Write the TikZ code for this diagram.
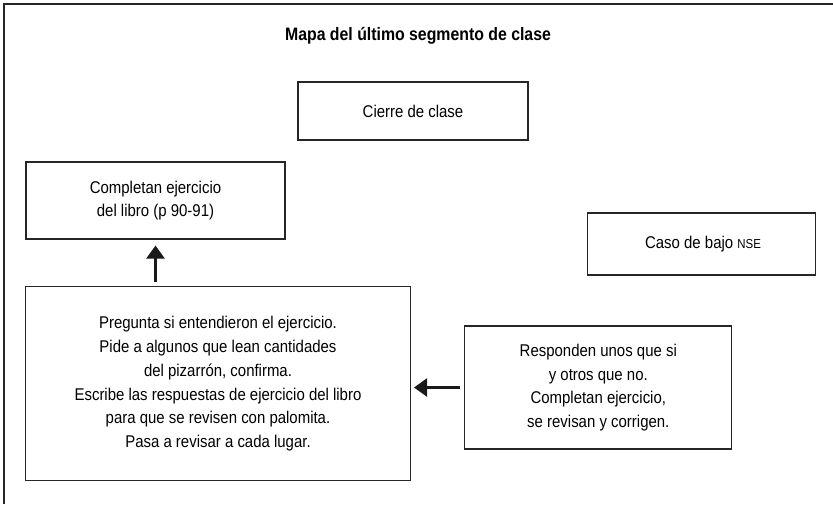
\documentclass[tikz,border=0pt]{standalone}
\usepackage{fontspec}
\setmainfont{Liberation Sans}[FakeStretch=0.88]
\usepackage{tikz}
\usetikzlibrary{arrows.meta, positioning}

\begin{document}
\begin{tikzpicture}[
    x=1pt, y=-1pt,
    box/.style={rectangle, draw=black!85, line width=1.1pt, align=center,
                font=\fontsize{17}{23.8}\selectfont},
    arr/.style={-{Triangle[length=13pt, width=18pt]}, line width=2.5pt, black!90}
]
\useasboundingbox (0,0) rectangle (833,504);
% partial frame
\draw[line width=1.8pt, black!85] (4,504) -- (4,4) -- (833,4);

\node[font=\fontsize{18}{20}\selectfont\bfseries] (title) at (418,36) {Mapa del último segmento de clase};

\node[box, minimum width=230pt, minimum height=58pt] (cierre) at (413,111) {Cierre de clase};
\node[box, minimum width=259pt, minimum height=77pt] (libro) at (155.5,200.5)
    {Completan ejercicio\\del libro (p 90-91)};
\node[box, minimum width=228pt, minimum height=62pt] (caso) at (701.5,244)
    {\hspace*{3pt}Caso de bajo {\fontsize{13}{15}\selectfont NSE}};
\node[box, minimum width=385pt, minimum height=194pt] (pregunta) at (218,383.7)
    {Pregunta si entendieron el ejercicio.\\
     Pide a algunos que lean cantidades\\
     del pizarrón, confirma.\\
     Escribe las respuestas de ejercicio del libro\\
     para que se revisen con palomita.\\
     Pasa a revisar a cada lugar.};
\node[box, minimum width=267pt, minimum height=123pt] (responden) at (598.3,387.5)
    {Responden unos que si\\
     y otros que no.\\
     Completan ejercicio,\\
     se revisan y corrigen.};

\draw[arr, shorten <=4pt, shorten >=6pt] (pregunta.north -| libro.south) -- (libro.south);
\draw[arr, shorten <=4pt, shorten >=3pt] (responden.west) -- (responden.west -| pregunta.east);
\end{tikzpicture}
\end{document}
